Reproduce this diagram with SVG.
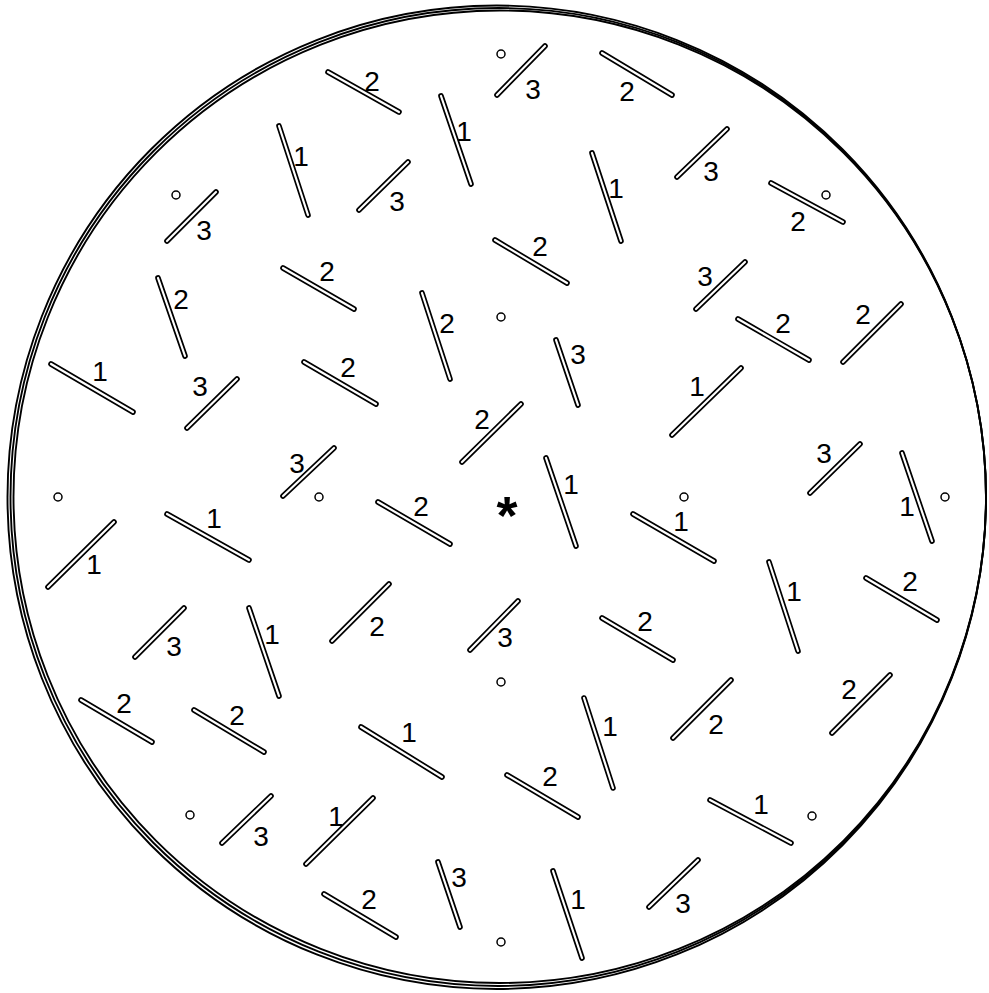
<svg xmlns="http://www.w3.org/2000/svg" width="989" height="993" viewBox="0 0 989 993">
<style>
.o{stroke:#000;stroke-width:5.6;stroke-linecap:round;fill:none}
.i{stroke:#fff;stroke-width:2.2;stroke-linecap:round;fill:none}
.t{font-family:"Liberation Sans",Arial,sans-serif;font-size:28px;fill:#000;text-anchor:middle}
.c{fill:#fff;stroke:#000;stroke-width:1.5}
.b{fill:none;stroke:#000;stroke-width:1.9}
</style>
<rect width="989" height="993" fill="#fff"/>
<g id="border">
<ellipse class="b" cx="496.75" cy="497.25" rx="489.25" ry="491.75"/>
<ellipse class="b" cx="498.25" cy="497" rx="487.75" ry="489"/>
<ellipse class="b" cx="499.75" cy="496.75" rx="486.25" ry="486.25"/>
</g>
<g id="segments">
<g id="m1"><line class="o" x1="328" y1="72" x2="399" y2="112"/><line class="i" x1="328" y1="72" x2="399" y2="112"/><text class="t" x="372" y="91">2</text></g>
<g id="m2"><circle class="c" cx="501" cy="54" r="4"/><line class="o" x1="497" y1="95" x2="545" y2="46"/><line class="i" x1="497" y1="95" x2="545" y2="46"/><text class="t" x="533" y="99">3</text></g>
<g id="m3"><line class="o" x1="602" y1="53" x2="672" y2="95"/><line class="i" x1="602" y1="53" x2="672" y2="95"/><text class="t" x="627" y="101">2</text></g>
<g id="m4"><line class="o" x1="441" y1="96" x2="471" y2="184"/><line class="i" x1="441" y1="96" x2="471" y2="184"/><text class="t" x="464" y="141">1</text></g>
<g id="m5"><line class="o" x1="279" y1="126" x2="308" y2="215"/><line class="i" x1="279" y1="126" x2="308" y2="215"/><text class="t" x="301" y="166">1</text></g>
<g id="m6"><line class="o" x1="359" y1="210" x2="408" y2="162"/><line class="i" x1="359" y1="210" x2="408" y2="162"/><text class="t" x="397" y="211">3</text></g>
<g id="m7"><line class="o" x1="677" y1="177" x2="727" y2="129"/><line class="i" x1="677" y1="177" x2="727" y2="129"/><text class="t" x="711" y="181">3</text></g>
<g id="m8"><line class="o" x1="592" y1="153" x2="621" y2="241"/><line class="i" x1="592" y1="153" x2="621" y2="241"/><text class="t" x="616" y="198">1</text></g>
<g id="m9"><circle class="c" cx="826" cy="195" r="4"/><line class="o" x1="771" y1="183" x2="843" y2="222"/><line class="i" x1="771" y1="183" x2="843" y2="222"/><text class="t" x="798" y="231">2</text></g>
<g id="m10"><circle class="c" cx="176" cy="195" r="4"/><line class="o" x1="167" y1="241" x2="216" y2="192"/><line class="i" x1="167" y1="241" x2="216" y2="192"/><text class="t" x="204" y="240">3</text></g>
<g id="m11"><line class="o" x1="495" y1="240" x2="567" y2="283"/><line class="i" x1="495" y1="240" x2="567" y2="283"/><text class="t" x="540" y="256">2</text></g>
<g id="m12"><line class="o" x1="283" y1="268" x2="354" y2="309"/><line class="i" x1="283" y1="268" x2="354" y2="309"/><text class="t" x="327" y="281">2</text></g>
<g id="m13"><line class="o" x1="158" y1="278" x2="185" y2="356"/><line class="i" x1="158" y1="278" x2="185" y2="356"/><text class="t" x="181" y="309">2</text></g>
<g id="m14"><line class="o" x1="422" y1="293" x2="450" y2="379"/><line class="i" x1="422" y1="293" x2="450" y2="379"/><text class="t" x="447" y="333">2</text></g>
<g id="m15"><circle class="c" cx="501" cy="317" r="4"/></g>
<g id="m16"><line class="o" x1="696" y1="309" x2="745" y2="262"/><line class="i" x1="696" y1="309" x2="745" y2="262"/><text class="t" x="705" y="286">3</text></g>
<g id="m17"><line class="o" x1="738" y1="319" x2="809" y2="360"/><line class="i" x1="738" y1="319" x2="809" y2="360"/><text class="t" x="783" y="333">2</text></g>
<g id="m18"><line class="o" x1="843" y1="362" x2="901" y2="304"/><line class="i" x1="843" y1="362" x2="901" y2="304"/><text class="t" x="863" y="324">2</text></g>
<g id="m19"><line class="o" x1="556" y1="340" x2="578" y2="405"/><line class="i" x1="556" y1="340" x2="578" y2="405"/><text class="t" x="578" y="364">3</text></g>
<g id="m20"><line class="o" x1="51" y1="364" x2="133" y2="412"/><line class="i" x1="51" y1="364" x2="133" y2="412"/><text class="t" x="100" y="381">1</text></g>
<g id="m21"><line class="o" x1="187" y1="428" x2="237" y2="379"/><line class="i" x1="187" y1="428" x2="237" y2="379"/><text class="t" x="200" y="396">3</text></g>
<g id="m22"><line class="o" x1="304" y1="362" x2="376" y2="404"/><line class="i" x1="304" y1="362" x2="376" y2="404"/><text class="t" x="348" y="377">2</text></g>
<g id="m23"><line class="o" x1="672" y1="435" x2="741" y2="368"/><line class="i" x1="672" y1="435" x2="741" y2="368"/><text class="t" x="697" y="396">1</text></g>
<g id="m24"><line class="o" x1="462" y1="462" x2="521" y2="404"/><line class="i" x1="462" y1="462" x2="521" y2="404"/><text class="t" x="482" y="429">2</text></g>
<g id="m25"><line class="o" x1="810" y1="493" x2="860" y2="444"/><line class="i" x1="810" y1="493" x2="860" y2="444"/><text class="t" x="824" y="463">3</text></g>
<g id="m26"><circle class="c" cx="945" cy="497" r="4"/><line class="o" x1="902" y1="453" x2="932" y2="541"/><line class="i" x1="902" y1="453" x2="932" y2="541"/><text class="t" x="907" y="516">1</text></g>
<g id="m27"><circle class="c" cx="319" cy="497" r="4"/><line class="o" x1="283" y1="496" x2="334" y2="448"/><line class="i" x1="283" y1="496" x2="334" y2="448"/><text class="t" x="297" y="473">3</text></g>
<g id="m28"><line class="o" x1="378" y1="502" x2="450" y2="544"/><line class="i" x1="378" y1="502" x2="450" y2="544"/><text class="t" x="421" y="516">2</text></g>
<g id="star"><text x="507" y="534" style="font-family:'Liberation Sans',Arial,sans-serif;font-size:54px;font-weight:bold;text-anchor:middle">*</text></g>
<g id="m29"><line class="o" x1="546" y1="458" x2="576" y2="546"/><line class="i" x1="546" y1="458" x2="576" y2="546"/><text class="t" x="571" y="494">1</text></g>
<g id="m30"><circle class="c" cx="684" cy="497" r="4"/><line class="o" x1="633" y1="514" x2="714" y2="561"/><line class="i" x1="633" y1="514" x2="714" y2="561"/><text class="t" x="681" y="531">1</text></g>
<g id="m31"><circle class="c" cx="58" cy="497" r="4"/><line class="o" x1="48" y1="587" x2="114" y2="522"/><line class="i" x1="48" y1="587" x2="114" y2="522"/><text class="t" x="94" y="574">1</text></g>
<g id="m32"><line class="o" x1="167" y1="514" x2="249" y2="560"/><line class="i" x1="167" y1="514" x2="249" y2="560"/><text class="t" x="214" y="528">1</text></g>
<g id="m33"><line class="o" x1="769" y1="562" x2="798" y2="651"/><line class="i" x1="769" y1="562" x2="798" y2="651"/><text class="t" x="794" y="601">1</text></g>
<g id="m34"><line class="o" x1="866" y1="578" x2="937" y2="620"/><line class="i" x1="866" y1="578" x2="937" y2="620"/><text class="t" x="910" y="591">2</text></g>
<g id="m35"><line class="o" x1="135" y1="657" x2="184" y2="608"/><line class="i" x1="135" y1="657" x2="184" y2="608"/><text class="t" x="174" y="656">3</text></g>
<g id="m36"><line class="o" x1="249" y1="608" x2="279" y2="696"/><line class="i" x1="249" y1="608" x2="279" y2="696"/><text class="t" x="272" y="644">1</text></g>
<g id="m37"><line class="o" x1="332" y1="641" x2="389" y2="584"/><line class="i" x1="332" y1="641" x2="389" y2="584"/><text class="t" x="377" y="636">2</text></g>
<g id="m38"><circle class="c" cx="501" cy="682" r="4"/><line class="o" x1="470" y1="650" x2="518" y2="601"/><line class="i" x1="470" y1="650" x2="518" y2="601"/><text class="t" x="505" y="647">3</text></g>
<g id="m39"><line class="o" x1="602" y1="618" x2="673" y2="660"/><line class="i" x1="602" y1="618" x2="673" y2="660"/><text class="t" x="645" y="631">2</text></g>
<g id="m40"><line class="o" x1="81" y1="700" x2="152" y2="742"/><line class="i" x1="81" y1="700" x2="152" y2="742"/><text class="t" x="124" y="713">2</text></g>
<g id="m41"><line class="o" x1="194" y1="710" x2="264" y2="752"/><line class="i" x1="194" y1="710" x2="264" y2="752"/><text class="t" x="237" y="725">2</text></g>
<g id="m42"><line class="o" x1="361" y1="727" x2="442" y2="777"/><line class="i" x1="361" y1="727" x2="442" y2="777"/><text class="t" x="409" y="742">1</text></g>
<g id="m43"><line class="o" x1="584" y1="698" x2="613" y2="788"/><line class="i" x1="584" y1="698" x2="613" y2="788"/><text class="t" x="610" y="736">1</text></g>
<g id="m44"><line class="o" x1="673" y1="738" x2="731" y2="680"/><line class="i" x1="673" y1="738" x2="731" y2="680"/><text class="t" x="716" y="734">2</text></g>
<g id="m45"><line class="o" x1="832" y1="733" x2="890" y2="675"/><line class="i" x1="832" y1="733" x2="890" y2="675"/><text class="t" x="849" y="699">2</text></g>
<g id="m46"><line class="o" x1="507" y1="775" x2="578" y2="817"/><line class="i" x1="507" y1="775" x2="578" y2="817"/><text class="t" x="550" y="786">2</text></g>
<g id="m47"><circle class="c" cx="190" cy="815" r="4"/><line class="o" x1="222" y1="843" x2="271" y2="796"/><line class="i" x1="222" y1="843" x2="271" y2="796"/><text class="t" x="261" y="846">3</text></g>
<g id="m48"><line class="o" x1="306" y1="864" x2="373" y2="798"/><line class="i" x1="306" y1="864" x2="373" y2="798"/><text class="t" x="336" y="826">1</text></g>
<g id="m49"><circle class="c" cx="812" cy="816" r="4"/><line class="o" x1="710" y1="800" x2="791" y2="843"/><line class="i" x1="710" y1="800" x2="791" y2="843"/><text class="t" x="761" y="814">1</text></g>
<g id="m50"><line class="o" x1="438" y1="862" x2="460" y2="927"/><line class="i" x1="438" y1="862" x2="460" y2="927"/><text class="t" x="459" y="887">3</text></g>
<g id="m51"><line class="o" x1="553" y1="871" x2="582" y2="958"/><line class="i" x1="553" y1="871" x2="582" y2="958"/><text class="t" x="578" y="909">1</text></g>
<g id="m52"><line class="o" x1="649" y1="907" x2="698" y2="860"/><line class="i" x1="649" y1="907" x2="698" y2="860"/><text class="t" x="683" y="913">3</text></g>
<g id="m53"><line class="o" x1="324" y1="894" x2="396" y2="937"/><line class="i" x1="324" y1="894" x2="396" y2="937"/><text class="t" x="369" y="909">2</text></g>
<g id="m54"><circle class="c" cx="501" cy="942" r="4"/></g>
</g>
</svg>
